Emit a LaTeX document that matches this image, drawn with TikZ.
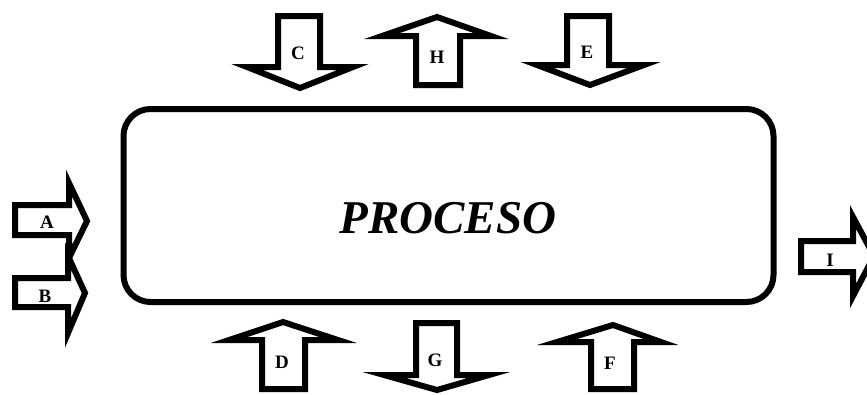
\documentclass[tikz,border=0pt]{standalone}
\usepackage{fontspec}
\setmainfont{Liberation Serif}
\begin{document}
\begin{tikzpicture}[x=1pt,y=-1pt,
  blockarrow/.style={draw=black,fill=white,line width=6pt,line join=miter,miter limit=10},
  lbl/.style={font=\fontsize{19}{19}\selectfont\bfseries,inner sep=0pt},
  procbox/.style={draw=black,line width=6pt,rounded corners=27pt}]
\useasboundingbox (0,0) rectangle (867,394);
\clip (0,0) rectangle (867,394);
% main process box
\draw[procbox] (123.5,109) rectangle (773.5,302);
\node[font=\fontsize{47}{47}\selectfont\bfseries\itshape,inner sep=0pt] (proc) at (448,218) {PROCESO};
% A (right)
\draw[blockarrow] (15,205) -- (69,205) -- (69,183) -- (87,221) -- (69,258) -- (69,235) -- (15,235) -- cycle;
\node[lbl] (A) at (47,222) {A};
% B (right)
\draw[blockarrow] (15,278) -- (68,278) -- (68,256) -- (85,293) -- (68,333) -- (68,307) -- (15,307) -- cycle;
\node[lbl] (B) at (45,296) {B};
% C (down)
\draw[blockarrow] (278,16) -- (320,16) -- (320,67) -- (353,67) -- (300,88) -- (247,67) -- (278,67) -- cycle;
\node[lbl] (C) at (298,53) {C};
% H (up)
\draw[blockarrow] (416,85) -- (460,85) -- (460,36) -- (491,36) -- (437,17) -- (382,36) -- (416,36) -- cycle;
\node[lbl] (H) at (437,57) {H};
% E (down)
\draw[blockarrow] (567,16) -- (609,16) -- (609,65) -- (644,65) -- (590,85) -- (537,65) -- (567,65) -- cycle;
\node[lbl] (E) at (587,52) {E};
% D (up)
\draw[blockarrow] (262,389) -- (305,389) -- (305,340) -- (338,340) -- (283,322) -- (229,340) -- (262,340) -- cycle;
\node[lbl] (D) at (282,362) {D};
% G (down)
\draw[blockarrow] (416,323) -- (457,323) -- (457,375) -- (489,375) -- (437,390) -- (384,375) -- (416,375) -- cycle;
\node[lbl] (G) at (435,360) {G};
% F (up)
\draw[blockarrow] (591,389) -- (634,389) -- (634,342) -- (661,342) -- (613,325) -- (557,342) -- (591,342) -- cycle;
\node[lbl] (F) at (610,363) {F};
% I (right, cut by border)
\draw[blockarrow] (801,241) -- (853,241) -- (853,217) -- (874,256) -- (853,296) -- (853,272) -- (801,272) -- cycle;
\node[lbl] (I) at (830,260) {I};
\end{tikzpicture}
\end{document}
